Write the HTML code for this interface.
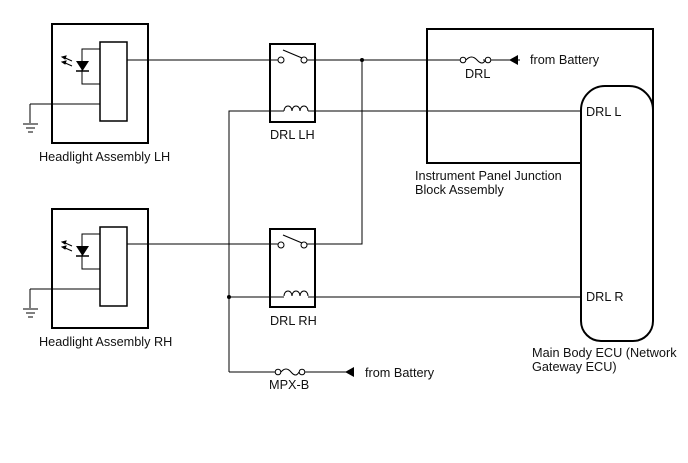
<!DOCTYPE html>
<html><head><style>body{margin:0;background:#fff}svg{display:block}text{font-family:"Liberation Sans",sans-serif;font-size:12.7px;fill:#111}</style></head><body>
<svg width="688" height="463" viewBox="0 0 688 463" xmlns="http://www.w3.org/2000/svg">
<defs>
<g id="hl" stroke="#000" fill="none">
<rect x="52" y="0" width="96" height="119" stroke-width="2"/>
<rect x="100" y="18" width="27" height="79" stroke-width="1.5"/>
<path d="M100 25H82V60H100" stroke-width="1"/>
<path d="M76 37H89L82.5 47Z" fill="#000" stroke="none"/>
<path d="M76 47H89" stroke-width="1.5"/>
<path d="M72 37L63 33M72 42L63 38" stroke-width="1"/>
<path d="M62 33L66 32L65 35ZM62 38L66 37L65 40Z" fill="#000"/>
<path d="M30 80H100M30 80V99M23 100H38M26 104H35M28 108H33" stroke-width="1"/>
</g>
<g id="rl" stroke="#000" fill="none">
<rect x="270" y="0" width="45" height="78" stroke-width="2"/>
<circle cx="281" cy="16" r="3" fill="#fff"/><circle cx="304" cy="16" r="3" fill="#fff"/>
<path d="M283 6L302 14" stroke-width="1.2"/>
<path d="M284 67a4 5 0 0 1 8 0a4 5 0 0 1 8 0a4 5 0 0 1 8 0" stroke-width="1"/>
</g>
</defs>
<use href="#hl" y="24"/>
<use href="#hl" y="209"/>
<use href="#rl" y="44"/>
<use href="#rl" y="229"/>
<g stroke="#000" fill="none" stroke-width="1">
<path d="M127 60H278M307 60H460M127 244H278M307 244H362V60"/>
<path d="M229 372V111H284M308 111H581M229 297H284M308 297H581M229 372H275"/>
<rect x="427" y="29" width="226" height="134" stroke-width="2"/>
<path d="M581 163V110a24 24 0 0 1 24 -24h24a24 24 0 0 1 24 24V321a20 20 0 0 1 -20 20h-32a20 20 0 0 1 -20 -20Z" fill="#fff" stroke-width="2"/>
<path d="M483 60H520M302 372H352"/>
<circle cx="463" cy="60" r="2.8" fill="#fff"/><circle cx="488" cy="60" r="2.8" fill="#fff"/>
<path d="M466 60q5.5 -6 11 0t8.5 0"/>
<circle cx="278" cy="372" r="2.8" fill="#fff"/><circle cx="302" cy="372" r="2.8" fill="#fff"/>
<path d="M281 372q5 -6 10 0t8 0"/>
</g>
<path d="M509 60L518 55V65Z M345 372L354 367V377Z" fill="#000"/>
<circle cx="362" cy="60" r="2" fill="#000"/>
<circle cx="229" cy="297" r="2" fill="#000"/>
<text x="39" y="161">Headlight Assembly LH</text>
<text x="39" y="346">Headlight Assembly RH</text>
<text x="270" y="139">DRL LH</text>
<text x="270" y="325">DRL RH</text>
<text x="465" y="78">DRL</text>
<text x="530" y="64">from Battery</text>
<text x="586" y="116">DRL L</text>
<text x="586" y="301">DRL R</text>
<text x="415" y="180">Instrument Panel Junction</text>
<text x="415" y="194">Block Assembly</text>
<text x="532" y="357">Main Body ECU (Network</text>
<text x="532" y="371">Gateway ECU)</text>
<text x="269" y="389">MPX-B</text>
<text x="365" y="377">from Battery</text>
</svg>
</body></html>
